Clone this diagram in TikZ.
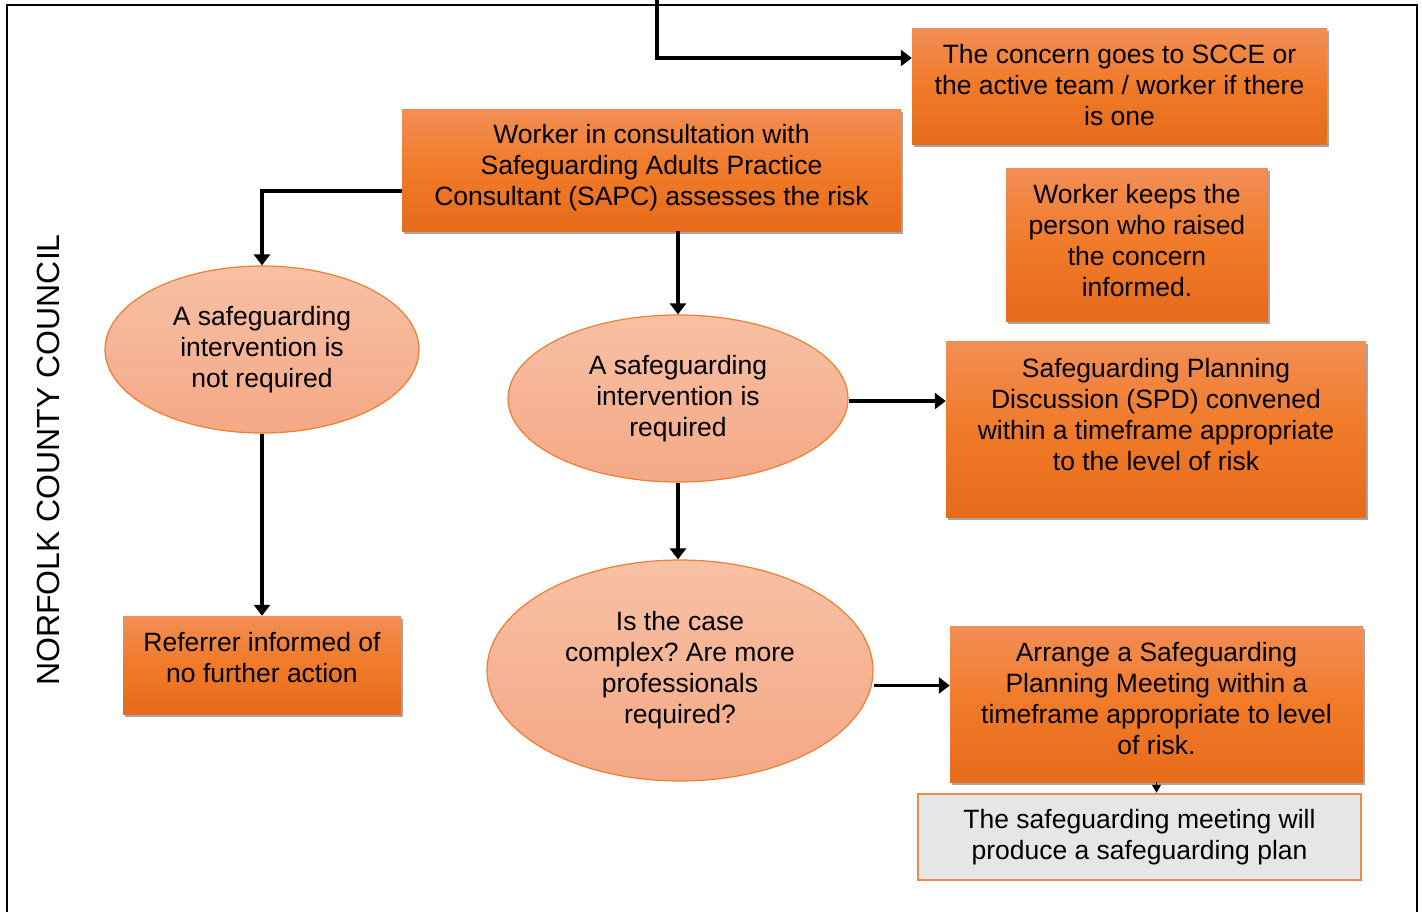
\documentclass[tikz,border=0pt]{standalone}
\usepackage{fontspec}
\setmainfont{Liberation Sans}
\frenchspacing
\usetikzlibrary{shapes.geometric,arrows.meta,shadows}
\definecolor{otop}{HTML}{F28E55}
\definecolor{omid}{HTML}{F07A28}
\definecolor{obot}{HTML}{E66B1B}
\definecolor{etop}{HTML}{F7C0A4}
\definecolor{ebot}{HTML}{F4A886}
\definecolor{eline}{HTML}{EF7D32}
\definecolor{gfill}{HTML}{E6E6E6}
\definecolor{gline}{HTML}{F08A4B}
\begin{document}
\begin{tikzpicture}[x=1pt,y=-1pt,
  obox/.style={rectangle, draw=none, top color=otop, bottom color=obot, middle color=omid, inner sep=0pt,
    drop shadow={shadow xshift=2pt,shadow yshift=-3pt,opacity=0.35,fill=black}},
  oval/.style={ellipse, draw=eline, line width=1.2pt, top color=etop, bottom color=ebot, inner sep=0pt,
    align=center, font=\fontsize{26.5}{31}\selectfont},
  gbox/.style={rectangle, draw=gline, line width=2.5pt, fill=gfill, inner sep=0pt},
  txt/.style={align=center, font=\fontsize{26.5}{31}\selectfont, inner sep=0pt},
  conn/.style={line width=3.5pt, -{Triangle[width=16pt,length=11pt]}},
  smallconn/.style={line width=1pt, -{Triangle[width=9pt,length=8pt]}}
]
\useasboundingbox (0,0) rectangle (1422,911);
\fill[white] (0,0) rectangle (1422,911);
\draw[line width=2pt] (6.5,5) rectangle (1417,930);

\node[txt, rotate=90, font=\fontsize{32}{38}\selectfont] (ncc) at (48,460) {NORFOLK COUNTY COUNCIL};

% boxes
\node[obox, minimum width=415pt, minimum height=116pt] (scce) at (1119.5,86) {};
\node[txt] (scce-t) at (1119.5,85.5) {The concern goes to SCCE or\\the active team / worker if there\\is one};

\node[obox, minimum width=499pt, minimum height=122pt] (consult) at (651.5,170) {};
\node[txt] (consult-t) at (651.5,167.5) {Worker in consultation with\\Safeguarding Adults Practice\\Consultant (SAPC) assesses the risk};

\node[obox, minimum width=262pt, minimum height=153pt] (keeps) at (1137,244.5) {};
\node[txt] (keeps-t) at (1137,241) {Worker keeps the\\person who raised\\the concern\\informed.};

\node[obox, minimum width=420pt, minimum height=176pt] (spd) at (1156,429) {};
\node[txt] (spd-t) at (1156,415) {Safeguarding Planning\\Discussion (SPD) convened\\within a timeframe appropriate\\to the level of risk};

\node[obox, minimum width=278pt, minimum height=98pt] (ref) at (262,665) {};
\node[txt] (ref-t) at (262,658) {Referrer informed of\\no further action};

\node[obox, minimum width=413pt, minimum height=156pt] (arr) at (1156.5,704) {};
\node[txt] (arr-t) at (1156.5,699) {Arrange a Safeguarding\\Planning Meeting within a\\timeframe appropriate to level\\of risk.};

\node[gbox, minimum width=443pt, minimum height=86pt] (final) at (1139.5,837) {};
\node[txt] (final-t) at (1139.5,837) {The safeguarding meeting will\\produce a safeguarding plan};

% ellipses
\node[oval, minimum width=314pt, minimum height=167pt] (e1) at (262,349.5) {A safeguarding\\intervention is\\not required};
\node[oval, minimum width=340pt, minimum height=167pt] (e2) at (678,398.5) {A safeguarding\\intervention is\\required};
\node[oval, minimum width=386pt, minimum height=221pt] (e3) at (680,670.5) {Is the case\\complex? Are more\\professionals\\required?};

% connectors
\coordinate (topin) at (657,-10);
\draw[conn] (topin) |- ([yshift=28pt]scce.west);
\draw[conn] ([yshift=-21pt]consult.west) -| (e1.north);
\draw[conn] (e2.north |- consult.south) -- (e2.north);
\draw[conn] (e1.south) -- (ref.north);
\draw[conn] (e2.south) -- (e2.south |- e3.north);
\draw[conn] ([yshift=-2.5pt]e2.east) -- ([yshift=-2.5pt]e2.east -| spd.west);
\draw[conn] ([yshift=-15pt]e3.east) -- ([yshift=-15pt]e3.east -| arr.west);
\draw[smallconn] (arr.south) -- (arr.south |- final.north);
\end{tikzpicture}
\end{document}
